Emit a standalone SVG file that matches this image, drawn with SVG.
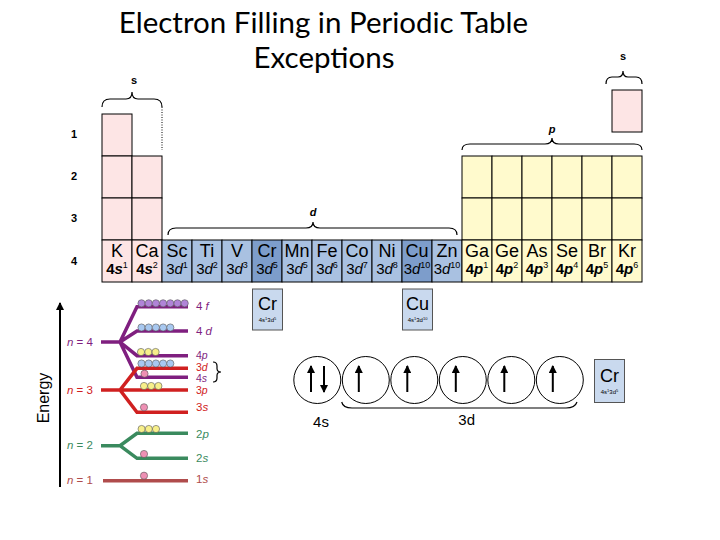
<svg xmlns="http://www.w3.org/2000/svg" width="720" height="540" viewBox="0 0 720 540">
<defs>
<style>
.cell{stroke:#000;stroke-width:1}
.pk{fill:#fde5e5}.bl{fill:#a9c1e1}.db{fill:#7d9dcb}.ye{fill:#fffacd}
.sym{font-family:"Liberation Sans",Arial,sans-serif;font-size:18px;text-anchor:middle;fill:#000}
.cfg{font-family:"Liberation Sans",Arial,sans-serif;font-size:15px;text-anchor:middle;fill:#000}
.b{font-weight:bold}
.it{font-style:italic}
.lbl{font-family:"Liberation Sans",Arial,sans-serif;font-size:11px;font-weight:bold;text-anchor:middle}
.brace{fill:none;stroke:#000;stroke-width:1.2}
.lv{fill:none;stroke-width:3.5}
.pu{stroke:#7f1f7f}.rd{stroke:#d02020}.gr{stroke:#3a8a5e}.br{stroke:#b04c4c}
.tpu{fill:#7f1f7f}.trd{fill:#d02020}.tgr{fill:#3a8a5e}.tbr{fill:#b04c4c}
.el{font-family:"Liberation Sans",Arial,sans-serif;font-size:11.5px}
.sm{font-size:10.5px}
.e{stroke:#555;stroke-width:0.6}
.ef{fill:#b084d8}.ed{fill:#a8c8f0}.ep{fill:#f7ef8a}.es{fill:#ee90b4}
.orb{fill:none;stroke:#000;stroke-width:1}
.arr{stroke:#000;stroke-width:2}
.box{fill:#c9d9ee;stroke:#555;stroke-width:1}
.bsym{font-family:"Liberation Sans",Arial,sans-serif;font-size:18px;text-anchor:middle}
.bcfg{font-family:"Liberation Sans",Arial,sans-serif;font-size:6px;text-anchor:middle}
</style>
<marker id="ah" markerWidth="8" markerHeight="8" refX="7" refY="4" orient="auto" markerUnits="userSpaceOnUse">
<path d="M0,0 L8,4 L0,8 z" fill="#000"/>
</marker>
</defs>
<rect width="720" height="540" fill="#fff"/>

<g id="title" font-family="Lato,'Liberation Sans',sans-serif" font-size="29.5" text-anchor="middle" fill="#000">
<text x="323.5" y="33">Electron Filling in Periodic Table</text>
<text x="324" y="68">Exceptions</text>
</g>

<g id="table">
<rect class="cell pk" x="102" y="114" width="30" height="42"/>
<rect class="cell pk" x="102" y="156" width="30" height="42"/>
<rect class="cell pk" x="132" y="156" width="30" height="42"/>
<rect class="cell pk" x="102" y="198" width="30" height="42"/>
<rect class="cell pk" x="132" y="198" width="30" height="42"/>
<line x1="162" y1="107" x2="162" y2="150" stroke="#000" stroke-width="1" stroke-dasharray="1,1.5"/>
<rect class="cell pk" x="612" y="90" width="30" height="42"/>
<rect class="cell ye" x="462" y="156" width="30" height="42"/>
<rect class="cell ye" x="492" y="156" width="30" height="42"/>
<rect class="cell ye" x="522" y="156" width="30" height="42"/>
<rect class="cell ye" x="552" y="156" width="30" height="42"/>
<rect class="cell ye" x="582" y="156" width="30" height="42"/>
<rect class="cell ye" x="612" y="156" width="30" height="42"/>
<rect class="cell ye" x="462" y="198" width="30" height="42"/>
<rect class="cell ye" x="492" y="198" width="30" height="42"/>
<rect class="cell ye" x="522" y="198" width="30" height="42"/>
<rect class="cell ye" x="552" y="198" width="30" height="42"/>
<rect class="cell ye" x="582" y="198" width="30" height="42"/>
<rect class="cell ye" x="612" y="198" width="30" height="42"/>
</g>

<g id="row4">
<rect class="cell pk" x="102" y="240" width="30" height="42"/>
<rect class="cell pk" x="132" y="240" width="30" height="42"/>
<rect class="cell bl" x="162" y="240" width="30" height="42"/>
<rect class="cell bl" x="192" y="240" width="30" height="42"/>
<rect class="cell bl" x="222" y="240" width="30" height="42"/>
<rect class="cell db" x="252" y="240" width="30" height="42"/>
<rect class="cell bl" x="282" y="240" width="30" height="42"/>
<rect class="cell bl" x="312" y="240" width="30" height="42"/>
<rect class="cell bl" x="342" y="240" width="30" height="42"/>
<rect class="cell bl" x="372" y="240" width="30" height="42"/>
<rect class="cell db" x="402" y="240" width="30" height="42"/>
<rect class="cell bl" x="432" y="240" width="30" height="42"/>
<rect class="cell ye" x="462" y="240" width="30" height="42"/>
<rect class="cell ye" x="492" y="240" width="30" height="42"/>
<rect class="cell ye" x="522" y="240" width="30" height="42"/>
<rect class="cell ye" x="552" y="240" width="30" height="42"/>
<rect class="cell ye" x="582" y="240" width="30" height="42"/>
<rect class="cell ye" x="612" y="240" width="30" height="42"/>

<text class="sym" x="117" y="257">K</text>
<text class="sym" x="147" y="257">Ca</text>
<text class="sym" x="177" y="257">Sc</text>
<text class="sym" x="207" y="257">Ti</text>
<text class="sym" x="237" y="257">V</text>
<text class="sym" x="267" y="257">Cr</text>
<text class="sym" x="297" y="257">Mn</text>
<text class="sym" x="327" y="257">Fe</text>
<text class="sym" x="357" y="257">Co</text>
<text class="sym" x="387" y="257">Ni</text>
<text class="sym" x="417" y="257">Cu</text>
<text class="sym" x="447" y="257">Zn</text>
<text class="sym" x="477" y="257">Ga</text>
<text class="sym" x="507" y="257">Ge</text>
<text class="sym" x="537" y="257">As</text>
<text class="sym" x="567" y="257">Se</text>
<text class="sym" x="597" y="257">Br</text>
<text class="sym" x="627" y="257">Kr</text>

<text class="cfg b" x="117" y="274">4<tspan class="it">s</tspan><tspan font-size="9" font-weight="normal" dy="-6">1</tspan></text>
<text class="cfg b" x="147" y="274">4<tspan class="it">s</tspan><tspan font-size="9" font-weight="normal" dy="-6">2</tspan></text>
<text class="cfg" x="177" y="274">3<tspan class="it">d</tspan><tspan font-size="9" dy="-6">1</tspan></text>
<text class="cfg" x="207" y="274">3<tspan class="it">d</tspan><tspan font-size="9" dy="-6">2</tspan></text>
<text class="cfg" x="237" y="274">3<tspan class="it">d</tspan><tspan font-size="9" dy="-6">3</tspan></text>
<text class="cfg" x="267" y="274">3<tspan class="it">d</tspan><tspan font-size="9" dy="-6">5</tspan></text>
<text class="cfg" x="297" y="274">3<tspan class="it">d</tspan><tspan font-size="9" dy="-6">5</tspan></text>
<text class="cfg" x="327" y="274">3<tspan class="it">d</tspan><tspan font-size="9" dy="-6">6</tspan></text>
<text class="cfg" x="357" y="274">3<tspan class="it">d</tspan><tspan font-size="9" dy="-6">7</tspan></text>
<text class="cfg" x="387" y="274">3<tspan class="it">d</tspan><tspan font-size="9" dy="-6">8</tspan></text>
<text class="cfg" x="417" y="274">3<tspan class="it">d</tspan><tspan font-size="9" dy="-6">10</tspan></text>
<text class="cfg" x="447" y="274">3<tspan class="it">d</tspan><tspan font-size="9" dy="-6">10</tspan></text>
<text class="cfg b" x="477" y="274">4<tspan class="it">p</tspan><tspan font-size="9" font-weight="normal" dy="-6">1</tspan></text>
<text class="cfg b" x="507" y="274">4<tspan class="it">p</tspan><tspan font-size="9" font-weight="normal" dy="-6">2</tspan></text>
<text class="cfg b" x="537" y="274">4<tspan class="it">p</tspan><tspan font-size="9" font-weight="normal" dy="-6">3</tspan></text>
<text class="cfg b" x="567" y="274">4<tspan class="it">p</tspan><tspan font-size="9" font-weight="normal" dy="-6">4</tspan></text>
<text class="cfg b" x="597" y="274">4<tspan class="it">p</tspan><tspan font-size="9" font-weight="normal" dy="-6">5</tspan></text>
<text class="cfg b" x="627" y="274">4<tspan class="it">p</tspan><tspan font-size="9" font-weight="normal" dy="-6">6</tspan></text>
</g>

<g id="row-labels">
<text class="lbl" x="74" y="138">1</text>
<text class="lbl" x="74" y="180">2</text>
<text class="lbl" x="74" y="222">3</text>
<text class="lbl" x="74" y="265">4</text>
</g>

<g id="braces">
<path class="brace" d="M102,107 Q102,99 110,99 L126,99 Q132,99 132,92 Q132,99 138,99 L154,99 Q162,99 162,107"/>
<text class="lbl" x="134" y="84">s</text>
<path class="brace" d="M606,84 Q606,77 612,77 L618,77 Q623,77 623,71 Q623,77 628,77 L636,77 Q642,77 642,84"/>
<text class="lbl" x="623" y="60">s</text>
<path class="brace" d="M462,150 Q462,144 470,144 L545,144 Q552,144 552,138 Q552,144 559,144 L634,144 Q642,144 642,150"/>
<text class="lbl it" x="552" y="133">p</text>
<path class="brace" d="M168,235 Q168,228 176,228 L306,228 Q313,228 313,222 Q313,228 320,228 L449,228 Q457,228 457,235"/>
<text class="lbl it" x="313" y="216">d</text>
</g>

<g id="energy-diagram">
<line x1="60" y1="487" x2="60" y2="303" stroke="#000" stroke-width="2" marker-end="url(#ah)"/>
<text x="49" y="398" transform="rotate(-90 49 398)" font-family="'Liberation Sans',Arial,sans-serif" font-size="16" text-anchor="middle">Energy</text>

<path class="lv pu" d="M101,342 H120 M120,342 L137,306.7 H188 M120,342 L137,331 H188 M120,342 L137,355.7 H188 M120,342 L137,377.3 H188"/>
<path class="lv rd" d="M101,390 H188 M120,390 L137,368.3 H188 M120,390 L137,412.3 H188"/>
<path class="lv gr" d="M101,445.7 H120 L137,433.3 H188 M120,445.7 L137,458.3 H188"/>
<path class="lv br" d="M103,480.7 H188"/>

<g class="el">
<text class="tpu" x="67" y="346"><tspan class="it">n</tspan> = 4</text>
<text class="trd" x="67" y="394"><tspan class="it">n</tspan> = 3</text>
<text class="tgr" x="67" y="449"><tspan class="it">n</tspan> = 2</text>
<text class="tbr" x="67" y="484"><tspan class="it">n</tspan> = 1</text>
<text class="tpu" x="196" y="310">4 <tspan class="it">f</tspan></text>
<text class="tpu" x="196" y="335">4 <tspan class="it">d</tspan></text>
<text class="tpu sm" x="196" y="359">4<tspan class="it">p</tspan></text>
<text class="trd sm" x="196" y="370.5">3<tspan class="it">d</tspan></text>
<text class="tpu sm" x="196" y="382">4<tspan class="it">s</tspan></text>
<text class="trd sm" x="196" y="394">3<tspan class="it">p</tspan></text>
<text class="trd" x="196" y="411">3<tspan class="it">s</tspan></text>
<text class="tgr" x="196" y="438">2<tspan class="it">p</tspan></text>
<text class="tgr" x="196" y="462">2<tspan class="it">s</tspan></text>
<text class="tbr" x="196" y="483">1<tspan class="it">s</tspan></text>
</g>
<path class="brace" d="M213,362 Q217,362 217,366 L217,368.5 Q217,372 221,372 Q217,372 217,375.5 L217,378 Q217,382 213,382"/>

<g id="electrons">
<circle class="e ef" cx="141.5" cy="303.3" r="3.6"/><circle class="e ef" cx="148.7" cy="303.3" r="3.6"/><circle class="e ef" cx="155.9" cy="303.3" r="3.6"/><circle class="e ef" cx="163.1" cy="303.3" r="3.6"/><circle class="e ef" cx="170.3" cy="303.3" r="3.6"/><circle class="e ef" cx="177.5" cy="303.3" r="3.6"/><circle class="e ef" cx="184.7" cy="303.3" r="3.6"/>
<circle class="e ed" cx="141.5" cy="327.5" r="3.6"/><circle class="e ed" cx="148.7" cy="327.5" r="3.6"/><circle class="e ed" cx="155.9" cy="327.5" r="3.6"/><circle class="e ed" cx="163.1" cy="327.5" r="3.6"/><circle class="e ed" cx="170.3" cy="327.5" r="3.6"/>
<circle class="e ep" cx="141" cy="352" r="3.6"/><circle class="e ep" cx="148.3" cy="352" r="3.6"/><circle class="e ep" cx="155.6" cy="352" r="3.6"/>
<circle class="e ed" cx="141.5" cy="363.5" r="3.6"/><circle class="e ed" cx="148.7" cy="363.5" r="3.6"/><circle class="e ed" cx="155.9" cy="363.5" r="3.6"/><circle class="e ed" cx="163.1" cy="363.5" r="3.6"/><circle class="e ed" cx="170.3" cy="363.5" r="3.6"/>
<circle class="e es" cx="144.5" cy="373.7" r="3.6"/>
<circle class="e ep" cx="144" cy="386" r="3.6"/><circle class="e ep" cx="151.2" cy="386" r="3.6"/><circle class="e ep" cx="158.4" cy="386" r="3.6"/>
<circle class="e es" cx="144" cy="407.3" r="3.6"/>
<circle class="e ep" cx="141.6" cy="429" r="3.6"/><circle class="e ep" cx="148.8" cy="429" r="3.6"/><circle class="e ep" cx="156" cy="429" r="3.6"/>
<circle class="e es" cx="144" cy="454" r="3.6"/>
<circle class="e es" cx="144" cy="475.7" r="3.6"/>
</g>
</g>

<g id="box-cr">
<rect class="box" x="252.5" y="289" width="30" height="41"/>
<text class="bsym" x="267.5" y="310">Cr</text>
<text class="bcfg" x="267.5" y="322">4s<tspan font-size="4" dy="-2">1</tspan><tspan dy="2">3d</tspan><tspan font-size="4" dy="-2">5</tspan></text>
</g>
<g id="box-cu">
<rect class="box" x="402.5" y="289" width="30" height="41"/>
<text class="bsym" x="417.5" y="310">Cu</text>
<text class="bcfg" x="417.5" y="322">4s<tspan font-size="4" dy="-2">1</tspan><tspan dy="2">3d</tspan><tspan font-size="4" dy="-2">10</tspan></text>
</g>
<g id="box-cr2">
<rect class="box" x="594.5" y="359.5" width="30" height="43"/>
<text class="bsym" x="609.5" y="382">Cr</text>
<text class="bcfg" x="609.5" y="394">4s<tspan font-size="4" dy="-2">1</tspan><tspan dy="2">3d</tspan><tspan font-size="4" dy="-2">5</tspan></text>
</g>

<g id="orbitals">
<circle class="orb" cx="317.3" cy="380" r="23.5"/>
<circle class="orb" cx="365.8" cy="380" r="23.5"/>
<circle class="orb" cx="414.3" cy="380" r="23.5"/>
<circle class="orb" cx="462.8" cy="380" r="23.5"/>
<circle class="orb" cx="511.3" cy="380" r="23.5"/>
<circle class="orb" cx="559.8" cy="380" r="23.5"/>
<path class="brace" d="M341.7,402 Q343,408 352,408 L566,408 Q575,408 577,402"/>
<text x="321" y="427" font-family="'Liberation Sans',Arial,sans-serif" font-size="15" text-anchor="middle">4s</text>
<text x="466.7" y="425" font-family="'Liberation Sans',Arial,sans-serif" font-size="15" text-anchor="middle">3d</text>
</g>

<g id="arrows">
<line class="arr" x1="311" y1="392" x2="311" y2="366" marker-end="url(#ah)"/>
<line class="arr" x1="324" y1="366" x2="324" y2="392" marker-end="url(#ah)"/>
<line class="arr" x1="358.8" y1="392" x2="358.8" y2="366" marker-end="url(#ah)"/>
<line class="arr" x1="407.3" y1="392" x2="407.3" y2="366" marker-end="url(#ah)"/>
<line class="arr" x1="455.8" y1="392" x2="455.8" y2="366" marker-end="url(#ah)"/>
<line class="arr" x1="504.3" y1="392" x2="504.3" y2="366" marker-end="url(#ah)"/>
<line class="arr" x1="552.8" y1="392" x2="552.8" y2="366" marker-end="url(#ah)"/>
</g>
</svg>
